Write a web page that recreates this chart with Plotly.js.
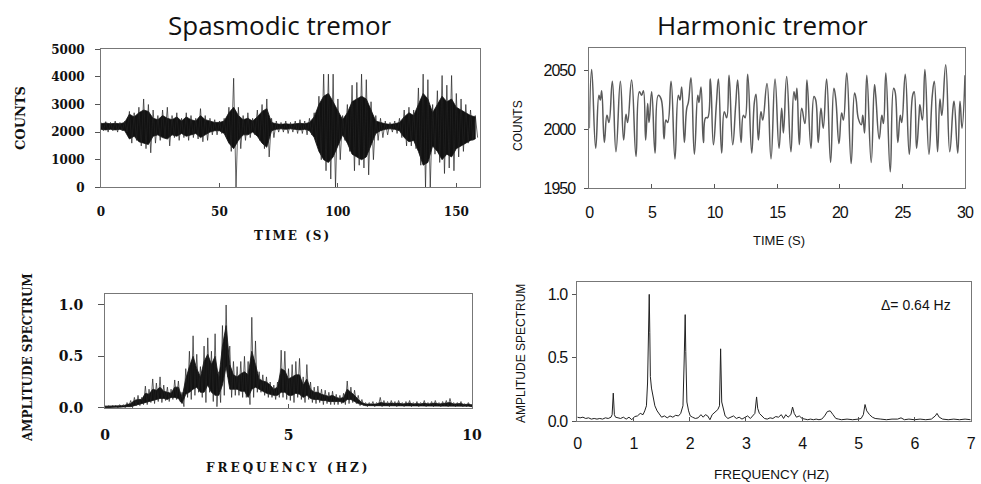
<!DOCTYPE html>
<html>
<head>
<meta charset="utf-8">
<script src="https://cdn.plot.ly/plotly-3.0.1.min.js"></script>
<style>
html,body{margin:0;padding:0;background:#fff;}
#chart{width:981px;height:484px;}
.x2tick text,.y2tick text,.x4tick text,.y4tick text{letter-spacing:-1px;}
.annotation[data-index="2"] text{letter-spacing:2px;}
.annotation[data-index="7"] text{letter-spacing:3px;}
</style>
</head>
<body>
<div id="chart"></div>
<script>
// ---------- Spasmodic tremor: time series (every 2 s) ----------
const spasTimeStep = 2;
// extreme spikes
const spasUpper = [2350,2380,2350,2400,2350,2400,2750,2700,2900,3200,3000,2800,2600,2800,2900,2600,2700,2500,2700,2600,
  2500,2850,2600,2500,2450,2400,2500,2900,3950,2900,2600,2700,2500,2800,3000,3200,2500,2400,2350,2400,
  2350,2400,2450,2400,2500,2700,3300,4100,4100,4100,3200,2600,3000,3700,3800,4100,3900,3100,2600,2500,
  2400,2350,2400,2500,2800,2900,2800,3600,4100,3900,3000,3500,4050,3700,4050,3400,3200,3000,2800,2600];
const spasLower = [2050,2000,2050,2000,2050,2000,1600,1700,1500,1400,1250,1600,1700,1800,1500,1800,1700,1800,1700,1800,
  1750,1650,1700,1900,1900,1950,1800,1300,0,1400,1700,1800,1900,1700,1400,1100,1800,2000,2000,1950,
  2000,1950,1950,1900,1900,1600,1000,600,300,0,1000,1700,1300,600,800,700,450,1000,1700,1800,
  1900,2000,1950,1800,1500,1500,1400,800,0,0,1200,900,500,700,600,1100,1300,1600,1700,1800];
// dense dark core
const spasCoreUpper = [2300,2330,2300,2320,2300,2350,2650,2550,2700,2800,2750,2500,2450,2600,2500,2450,2550,2400,2550,2450,
  2400,2600,2450,2400,2350,2350,2400,2700,2900,2600,2450,2500,2400,2550,2750,2850,2350,2300,2280,2300,
  2280,2300,2320,2300,2350,2550,3000,3300,3400,3100,2800,2450,2700,3100,3200,3300,3200,2800,2400,2350,
  2300,2280,2300,2350,2550,2700,2600,3000,3400,3200,2700,3000,3300,3100,3200,2900,2800,2700,2600,2550];
const spasCoreLower = [2100,2080,2100,2080,2100,2050,1750,1850,1650,1600,1550,1850,1900,1800,1750,1900,1850,1950,1850,1900,
  1950,1800,1900,2000,2050,2050,1950,1600,1400,1700,1900,1900,2000,1850,1600,1450,2050,2100,2120,2100,
  2120,2100,2080,2100,2050,1800,1300,1000,900,1100,1500,1900,1600,1200,1100,1000,1100,1500,1950,2050,
  2100,2120,2100,2050,1800,1650,1700,1300,800,900,1500,1300,1000,1200,1100,1400,1500,1600,1700,1750];
const spasTimeTicks = [0,50,100,150];
const spasCountTicks = [0,1000,2000,3000,4000,5000];

// ---------- Harmonic tremor: time series (turning points) ----------
const harmTime = [0.00,0.19,0.51,0.77,0.88,0.99,1.20,1.41,1.57,1.84,2.13,2.48,2.74,2.93,3.06,3.38,3.73,4.00,4.18,4.32,
  4.50,4.66,4.77,4.98,5.25,5.51,5.73,5.97,6.12,6.26,6.53,6.84,7.11,7.24,7.38,7.59,7.78,7.91,8.12,8.39,
  8.66,8.76,8.92,9.11,9.29,9.45,9.67,9.91,10.15,10.31,10.57,10.78,10.97,11.16,11.45,11.69,11.85,12.12,12.30,12.44,
  12.65,12.97,13.18,13.31,13.50,13.71,13.85,14.19,14.51,14.83,15.15,15.36,15.50,15.76,16.10,16.34,16.48,16.58,16.77,16.96,
  17.22,17.38,17.70,17.94,18.08,18.28,18.50,18.68,18.95,19.27,19.53,19.68,19.94,20.15,20.29,20.56,20.91,21.18,21.30,21.49,
  21.72,21.84,21.98,22.16,22.51,22.77,22.87,23.15,23.36,23.49,23.68,24.03,24.30,24.42,24.64,24.83,24.95,25.23,25.55,25.82,
  25.94,26.13,26.33,26.40,26.60,26.80,27.12,27.39,27.55,27.81,28.00,28.15,28.46,28.78,29.05,29.13,29.42,29.60,29.76,30.00];
const harmCounts = [2001,2051,1984,2029,2025,2033,1989,2012,2006,2041,1981,2041,1991,2013,2006,2042,1977,2032,2029,2033,
  1991,2022,2006,2032,1980,2029,2026,1992,2008,2006,2041,1975,2029,2025,2036,1989,2018,2023,2044,1979,
  2029,2023,2036,1989,2010,2010,2043,1987,2022,2043,1980,2015,2010,2046,1987,2021,2042,1989,2012,2010,
  2047,1980,2023,2030,1991,2015,2008,2039,1975,2043,1984,2018,1997,2045,1981,2032,2025,2035,1987,2018,
  2005,2042,1984,2028,2025,1989,2018,2001,2043,1972,2035,2026,1988,2014,2008,2048,1971,2031,2026,2009,
  2004,2012,1997,2046,1972,2038,2029,1992,2012,2005,2048,1964,2035,2032,1989,2012,2006,2047,1979,2029,
  2032,1984,2012,2021,2008,2051,1979,2029,2041,1981,2026,2012,2055,1981,2019,2024,1980,2024,2001,2046];
const harmTimeTicks = [0,5,10,15,20,25,30];
const harmCountTicks = [1950,2000,2050];

// ---------- Spasmodic tremor: amplitude spectrum (every 0.1 Hz) ----------
const spasFreqStep = 0.1;
const spasSpecUpper = [0.02,0.02,0.02,0.02,0.03,0.03,0.05,0.07,0.10,0.12,
  0.10,0.21,0.18,0.28,0.24,0.30,0.22,0.20,0.18,0.27,
  0.26,0.15,0.38,0.55,0.70,0.52,0.40,0.60,0.68,0.55,
  0.72,0.35,0.80,1.00,0.60,0.45,0.40,0.45,0.50,0.45,
  0.88,0.65,0.35,0.32,0.30,0.25,0.22,0.25,0.56,0.55,
  0.38,0.42,0.45,0.48,0.30,0.42,0.25,0.20,0.21,0.18,
  0.17,0.15,0.16,0.13,0.12,0.14,0.26,0.20,0.17,0.12,
  0.08,0.05,0.05,0.06,0.05,0.10,0.07,0.06,0.07,0.06,
  0.07,0.05,0.06,0.07,0.05,0.06,0.05,0.07,0.05,0.06,
  0.07,0.05,0.06,0.07,0.09,0.05,0.05,0.06,0.04,0.05,0.03];
const spasSpecLower = [0.00,0.00,0.01,0.00,0.01,0.00,0.01,0.00,0.02,0.02,
  0.03,0.03,0.05,0.04,0.06,0.05,0.07,0.06,0.08,0.08,
  0.06,0.01,0.10,0.08,0.12,0.15,0.10,0.05,0.15,0.06,
  0.01,0.05,0.12,0.30,0.10,0.12,0.12,0.10,0.10,0.03,
  0.10,0.15,0.15,0.12,0.10,0.10,0.08,0.10,0.10,0.08,
  0.07,0.05,0.10,0.08,0.05,0.08,0.05,0.04,0.05,0.03,
  0.04,0.03,0.03,0.03,0.04,0.03,0.04,0.05,0.04,0.02,
  0.02,0.01,0.02,0.01,0.02,0.01,0.02,0.01,0.02,0.01,
  0.02,0.01,0.02,0.01,0.02,0.01,0.02,0.01,0.02,0.01,
  0.02,0.01,0.02,0.01,0.02,0.01,0.02,0.01,0.01,0.02,0.01];
const spasSpecCoreUpper = [0.015,0.015,0.015,0.02,0.02,0.02,0.03,0.04,0.07,0.08,
  0.08,0.14,0.13,0.18,0.17,0.20,0.16,0.15,0.14,0.20,
  0.20,0.10,0.28,0.40,0.50,0.38,0.30,0.45,0.52,0.42,
  0.50,0.28,0.60,0.80,0.42,0.32,0.30,0.33,0.35,0.32,
  0.55,0.42,0.28,0.26,0.25,0.22,0.18,0.20,0.38,0.36,
  0.28,0.30,0.32,0.32,0.22,0.28,0.18,0.15,0.15,0.13,
  0.12,0.11,0.12,0.10,0.09,0.10,0.18,0.15,0.12,0.08,
  0.05,0.035,0.035,0.04,0.035,0.05,0.045,0.04,0.045,0.04,
  0.045,0.035,0.04,0.045,0.035,0.04,0.035,0.045,0.035,0.04,
  0.045,0.035,0.04,0.045,0.05,0.035,0.035,0.04,0.03,0.035,0.025];
const spasSpecCoreLower = [0.00,0.005,0.005,0.005,0.005,0.005,0.01,0.01,0.02,0.03,
  0.04,0.05,0.06,0.07,0.08,0.09,0.09,0.08,0.10,0.10,
  0.09,0.04,0.13,0.15,0.18,0.20,0.15,0.15,0.22,0.15,
  0.12,0.12,0.22,0.40,0.18,0.18,0.18,0.16,0.16,0.10,
  0.18,0.20,0.18,0.16,0.14,0.13,0.12,0.12,0.15,0.15,
  0.12,0.12,0.14,0.13,0.10,0.12,0.09,0.08,0.08,0.07,
  0.07,0.06,0.06,0.06,0.06,0.05,0.08,0.08,0.06,0.04,
  0.03,0.02,0.02,0.02,0.02,0.02,0.02,0.02,0.02,0.02,
  0.02,0.02,0.02,0.02,0.02,0.02,0.02,0.02,0.02,0.02,
  0.02,0.02,0.02,0.02,0.02,0.02,0.02,0.02,0.015,0.015,0.01];
const spasFreqTicks = [0,5,10];
const specAmpTicks = [0,0.5,1];

// ---------- Harmonic tremor: amplitude spectrum ----------
const harmFreq = [0.00,0.05,0.10,0.15,0.20,0.25,0.30,0.35,0.40,0.45,0.50,0.55,0.60,0.62,0.64,0.66,0.68,0.72,0.77,0.82,
  0.87,0.92,0.97,1.02,1.07,1.12,1.17,1.20,1.23,1.25,1.27,1.28,1.29,1.30,1.32,1.35,1.38,1.42,1.46,1.50,
  1.55,1.60,1.65,1.70,1.75,1.80,1.84,1.88,1.90,1.92,1.93,1.95,1.98,2.01,2.05,2.10,2.15,2.20,2.24,2.28,
  2.32,2.36,2.40,2.45,2.50,2.53,2.55,2.57,2.60,2.63,2.68,2.73,2.78,2.83,2.88,2.93,2.98,3.03,3.08,3.12,
  3.16,3.19,3.21,3.24,3.28,3.33,3.38,3.43,3.48,3.53,3.58,3.63,3.67,3.71,3.75,3.80,3.83,3.86,3.90,3.95,
  4.00,4.05,4.10,4.15,4.20,4.25,4.30,4.35,4.40,4.45,4.50,4.55,4.60,4.65,4.70,4.80,4.90,5.00,5.05,5.09,
  5.12,5.15,5.20,5.25,5.30,5.40,5.50,5.60,5.70,5.76,5.82,5.90,6.00,6.10,6.20,6.30,6.37,6.40,6.44,6.50,
  6.60,6.70,6.80,6.90,7.00];
const harmAmp = [0.030,0.025,0.030,0.020,0.025,0.015,0.020,0.015,0.020,0.015,0.025,0.020,0.030,0.050,0.220,0.050,0.030,0.025,0.020,0.030,
  0.015,0.030,0.010,0.035,0.040,0.060,0.050,0.080,0.120,0.300,0.750,1.000,0.700,0.350,0.260,0.180,0.120,0.080,0.050,0.030,
  0.040,0.025,0.040,0.030,0.045,0.040,0.060,0.120,0.450,0.840,0.550,0.150,0.080,0.040,0.030,0.020,0.025,0.050,0.030,0.050,
  0.040,0.010,0.050,0.070,0.090,0.120,0.570,0.150,0.100,0.040,0.020,0.030,0.040,0.020,0.030,0.015,0.025,0.040,0.020,0.040,
  0.060,0.190,0.100,0.060,0.040,0.020,0.015,0.025,0.020,0.035,0.030,0.050,0.020,0.050,0.030,0.050,0.110,0.060,0.030,0.040,
  0.020,0.015,0.010,0.015,0.010,0.015,0.010,0.015,0.040,0.075,0.080,0.050,0.020,0.015,0.010,0.015,0.010,0.015,0.020,0.050,
  0.130,0.080,0.050,0.030,0.020,0.015,0.010,0.015,0.015,0.025,0.010,0.015,0.010,0.015,0.010,0.015,0.040,0.060,0.030,0.015,
  0.010,0.015,0.010,0.015,0.010];
const harmFreqTicks = [0,1,2,3,4,5,6,7];

// ---------- build traces from the read envelopes ----------
function zigzag(step, upper, lower){
  const x=[], y=[];
  for(let i=0;i<upper.length;i++){
    const t=+(i*step).toFixed(3);
    x.push(t); y.push(upper[i]);
    x.push(+(t+step/2).toFixed(3)); y.push(lower[i]);
  }
  return {x, y};
}
function band(step, upper, lower){
  const xs = upper.map((_,i)=>+(i*step).toFixed(3));
  return {x: xs.concat(xs.slice().reverse()), y: upper.concat(lower.slice().reverse())};
}
const spasSeries = zigzag(spasTimeStep, spasUpper, spasLower);
const spasCore = band(spasTimeStep, spasCoreUpper, spasCoreLower);
const spasSpec = zigzag(spasFreqStep, spasSpecUpper, spasSpecLower);
const spasSpecCore = band(spasFreqStep, spasSpecCoreUpper, spasSpecCoreLower);

const W=981, H=484;
const px = v => v/W, py = v => 1 - v/H;

const serifBold = {family:'DejaVu Serif, Liberation Serif, serif', weight:'bold', color:'#111'};
const sans = {family:'Liberation Sans, Arial, sans-serif', color:'#111'};

const traces = [
  {x:spasCore.x, y:spasCore.y, xaxis:'x', yaxis:'y', mode:'lines', fill:'toself', fillcolor:'#111', line:{color:'#111', width:0.8}, hoverinfo:'skip'},
  {x:spasSeries.x, y:spasSeries.y, xaxis:'x', yaxis:'y', mode:'lines', line:{color:'#222', width:0.7}, hoverinfo:'skip'},
  {x:harmTime, y:harmCounts, xaxis:'x2', yaxis:'y2', mode:'lines', line:{color:'#5a5a5a', width:1.5, shape:'spline', smoothing:1.3}, hoverinfo:'skip'},
  {x:spasSpecCore.x, y:spasSpecCore.y, xaxis:'x3', yaxis:'y3', mode:'lines', fill:'toself', fillcolor:'#111', line:{color:'#111', width:0.8}, hoverinfo:'skip'},
  {x:spasSpec.x, y:spasSpec.y, xaxis:'x3', yaxis:'y3', mode:'lines', line:{color:'#222', width:0.7}, hoverinfo:'skip'},
  {x:harmFreq, y:harmAmp, xaxis:'x4', yaxis:'y4', mode:'lines', line:{color:'#222', width:1}, hoverinfo:'skip'}
];

const frame = {showline:true, mirror:true, linecolor:'#777', linewidth:1, showgrid:false, zeroline:false, tickcolor:'#555'};

const layout = {
  width:W, height:H, margin:{l:0,r:0,t:0,b:0}, paper_bgcolor:'#fff', plot_bgcolor:'#fff', showlegend:false,
  xaxis: Object.assign({}, frame, {domain:[px(101),px(480)], anchor:'y', range:[0,160], tickvals:spasTimeTicks,
    ticks:'inside', ticklen:4, ticklabelstandoff:13, tickfont:Object.assign({size:12}, serifBold)}),
  yaxis: Object.assign({}, frame, {domain:[py(187.3),py(49.3)], anchor:'x', range:[0,5000], tickvals:spasCountTicks,
    ticks:'outside', ticklen:5, ticklabelstandoff:8, tickfont:Object.assign({size:12}, serifBold)}),
  xaxis2: Object.assign({}, frame, {domain:[px(589.3),px(965)], anchor:'y2', range:[0,30], tickvals:harmTimeTicks,
    ticks:'inside', ticklen:4, ticklabelstandoff:9, tickfont:Object.assign({size:16}, sans)}),
  yaxis2: Object.assign({}, frame, {domain:[py(188.3),py(48.3)], anchor:'x2', range:[1950,2069], tickvals:harmCountTicks,
    ticks:'outside', ticklen:4, ticklabelstandoff:6, tickfont:Object.assign({size:16}, sans)}),
  xaxis3: Object.assign({}, frame, {domain:[px(105),px(472)], anchor:'y3', range:[0,10], tickvals:spasFreqTicks, ticktext:['0','5','10'],
    ticks:'inside', ticklen:4, ticklabelstandoff:14, tickfont:Object.assign({size:14}, serifBold)}),
  yaxis3: Object.assign({}, frame, {domain:[py(408),py(294)], anchor:'x3', range:[-0.003,1.107], tickvals:specAmpTicks, ticktext:['0.0','0.5','1.0'],
    ticks:'outside', ticklen:6, ticklabelstandoff:12, tickfont:Object.assign({size:14}, serifBold)}),
  xaxis4: Object.assign({}, frame, {domain:[px(577.3),px(970.7)], anchor:'y4', range:[0,7], tickvals:harmFreqTicks,
    ticks:'inside', ticklen:4, ticklabelstandoff:8, tickfont:Object.assign({size:16}, sans)}),
  yaxis4: Object.assign({}, frame, {domain:[py(421),py(281.7)], anchor:'x4', range:[0,1.1], tickvals:specAmpTicks, ticktext:['0.0','0.5','1.0'],
    ticks:'outside', ticklen:4, ticklabelstandoff:2, tickfont:Object.assign({size:16}, sans)}),
  annotations: [
    {text:'Spasmodic tremor', x:px(280), y:py(25), font:{family:'Open Sans, sans-serif', size:26, color:'#111'}},
    {text:'COUNTS', x:px(21), y:py(118), textangle:-90, font:Object.assign({size:13}, serifBold)},
    {text:'TIME (S)', x:px(292), y:py(236), font:Object.assign({size:12}, serifBold)},
    {text:'Harmonic tremor', x:px(762), y:py(25), font:{family:'Open Sans, sans-serif', size:26, color:'#111'}},
    {text:'COUNTS', x:px(518), y:py(126), textangle:-90, font:Object.assign({size:12}, sans)},
    {text:'TIME (S)', x:px(779), y:py(240), font:Object.assign({size:13}, sans)},
    {text:'AMPLITUDE SPECTRUM', x:px(28), y:py(358), textangle:-90, font:Object.assign({size:12}, serifBold)},
    {text:'FREQUENCY (HZ)', x:px(288), y:py(468), font:Object.assign({size:12}, serifBold)},
    {text:'AMPLITUDE SPECTRUM', x:px(521), y:py(354), textangle:-90, font:Object.assign({size:12}, sans)},
    {text:'FREQUENCY (HZ)', x:px(771), y:py(484), yanchor:'bottom', font:Object.assign({size:13.5}, sans)},
    {text:'\u0394= 0.64 Hz', x:px(916), y:py(305), font:Object.assign({size:14}, sans)}
  ].map(a => Object.assign({xref:'paper', yref:'paper', showarrow:false, xanchor:'center', yanchor:'middle'}, a))
};

Plotly.newPlot('chart', traces, layout, {staticPlot:true, displayModeBar:false});
</script>
</body>
</html>
